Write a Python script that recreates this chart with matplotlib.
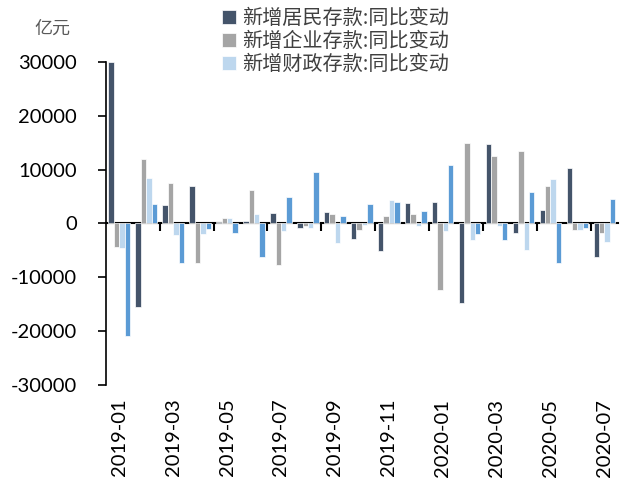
import numpy as np
import matplotlib
matplotlib.use('Agg')
from matplotlib import pyplot as plt

months = ['2019-01', '2019-02', '2019-03', '2019-04', '2019-05', '2019-06',
          '2019-07', '2019-08', '2019-09', '2019-10', '2019-11', '2019-12',
          '2020-01', '2020-02', '2020-03', '2020-04', '2020-05', '2020-06',
          '2020-07']

# 同比变动, 亿元
household = [30000, -15500, 3500, 7000, 300, 500, 1900, -900, 2200, -2800,
             -5100, 3800, 3900, -14700, 14700, -1800, 2500, 10400, -6300]
corporate = [-4300, 12000, 7600, -7300, 1100, 6200, -7800, -400, 1800, -1200,
             1400, 1800, -12300, 14900, 12600, 13500, 6900, -1300, -1800]
fiscal = [-4600, 8500, -2200, -2000, 1000, 1800, -1400, -900, -3700, -300,
          4300, -400, -1400, -3100, -500, -4900, 8300, -1200, -3400]
nonbank = [-21000, 3600, -7400, -1000, -1800, -6300, 4900, 9500, 1400, 3600,
           3900, 2300, 10800, -2000, -3100, 5900, -7300, -900, 4600]

labels = ['新增居民存款:同比变动', '新增企业存款:同比变动', '新增财政存款:同比变动', None]
colors = ['#44546A', '#A5A5A5', '#BDD7EE', '#5B9BD5']
series = [household, corporate, fiscal, nonbank]

cjk = ['Noto Sans CJK SC', 'DejaVu Sans']
plt.rcParams['axes.unicode_minus'] = False

fig = plt.figure(figsize=(6.26, 4.78), dpi=100)
ax = fig.add_axes([0.169, 0.195, 0.818, 0.675])

x = np.arange(len(months))
w = 0.2
for i, (vals, col, lab) in enumerate(zip(series, colors, labels)):
    ax.bar(x + (i - 1.5) * w, vals, width=w, color=col, edgecolor='white',
           linewidth=0.5, label=lab, zorder=2)

ax.set_xlim(-0.5, len(months) - 0.5)
ax.set_ylim(-30000, 30000)
ax.set_yticks(np.arange(-30000, 30001, 10000))
ax.tick_params(axis='y', direction='out', length=6, width=1.2,
               labelsize=14.5, pad=15)
for t in ax.get_yticklabels():
    t.set_fontfamily('Lato')

for s in ['top', 'right', 'bottom']:
    ax.spines[s].set_visible(False)
ax.spines['left'].set_linewidth(1.2)

# month labels along the bottom, every second month
ax.set_xticks(x[::2])
ax.set_xticklabels(months[::2], rotation=90, fontfamily='Lato', fontsize=14.5)
ax.tick_params(axis='x', length=0, pad=10)

# zero line with category boundary ticks
zero = ax.secondary_xaxis(0.5)
zero.set_xticks(x[1:-1:2] + 0.5)
zero.set_xticklabels([])
zero.tick_params(axis='x', direction='in', length=6, width=1.5)
zero.spines['bottom'].set_linewidth(1.5)
zero.spines['top'].set_linewidth(1.5)

fig.text(0.083, 0.94, '亿元', fontfamily=cjk, fontsize=13, color='#595959',
         ha='center', va='center')

leg = fig.legend(loc='upper left', bbox_to_anchor=(0.326, 1.022), frameon=False,
                 prop={'family': cjk, 'size': 14.5}, handlelength=0.7,
                 handleheight=0.7, handletextpad=0.3, labelspacing=0.1)
for t in leg.get_texts():
    t.set_color('#404040')

fig.savefig('out.png', dpi=100)
